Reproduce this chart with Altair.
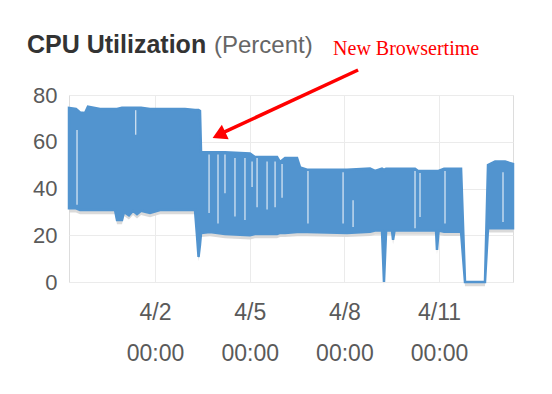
import altair as alt
import pandas as pd

# ---- data ----
BASE = pd.Timestamp("2017-03-30 06:36")
# hours after BASE, lower envelope, upper envelope (percent)
hours = [0, 5.3, 8.4, 12.2, 14.4, 23.6, 35.0, 36.5, 40.3, 41.8, 45.6, 48.7, 51.7,
         54.8, 61.6, 69.2, 88.2, 95.8, 97.3, 98.5, 99.6, 100.4, 107.2, 118.6,
         137.6, 141.4, 158.2, 160.5, 164.3, 173.4, 175.7, 181.0, 211.4, 228.9,
         232.7, 238.0, 239.5, 241.1, 245.6, 246.4, 247.5, 263.1, 265.4, 279.1,
         279.8, 281.0, 285.2, 298.1, 301.1, 316.3, 318.6, 324.0, 331.6, 337.6]
low = [31.5, 31.5, 30.8, 30.8, 30.8, 30.8, 30.8, 26.5, 26.5, 30.0, 28.5, 30.5, 29.0,
       30.5, 29.5, 30.8, 30.8, 30.8, 20.0, 10.7, 16.0, 21.0, 21.4, 20.5,
       20.0, 20.5, 20.5, 21.0, 21.0, 21.4, 21.4, 21.4, 21.0, 21.5,
       22.0, 22.0, 0.0, 22.0, 22.0, 18.0, 22.0, 22.0, 22.0, 22.0,
       13.7, 22.0, 21.5, 21.5, 0.0, 0.0, 23.0, 23.0, 23.0, 23.0]
high = [74.5, 74.0, 72.5, 72.3, 75.0, 74.0, 74.0, 74.0, 74.5, 74.5, 74.5, 74.5, 74.5,
        74.5, 74.0, 74.0, 74.0, 73.6, 73.6, 73.6, 73.2, 55.5, 55.5, 55.5,
        55.0, 53.5, 53.5, 51.3, 53.0, 53.0, 49.0, 48.0, 48.0, 48.5,
        47.5, 48.5, 48.0, 48.5, 48.5, 48.5, 48.5, 48.5, 47.5, 47.5,
        47.5, 47.5, 48.5, 48.5, 0.0, 0.0, 50.0, 51.5, 51.5, 50.5]

# thin gaps inside the band where the series did not swing fully (hours, from, to)
gap_hours = [6.1, 50.7, 106.5, 113.3, 118.6, 126.2, 133.8, 139.2, 143.0, 150.6,
             156.7, 162.0, 181.7, 208.4, 216.0, 263.1, 266.9, 285.9, 330.0]
gap_from = [33.0, 63.0, 29.5, 25.0, 38.0, 28.0, 26.5, 40.6, 32.0, 31.0,
            32.0, 36.0, 25.0, 25.0, 23.5, 23.0, 27.8, 25.0, 25.7]
gap_to = [65.0, 73.5, 54.5, 54.5, 54.5, 53.0, 53.0, 51.5, 53.0, 51.5,
          51.5, 50.5, 47.5, 47.0, 35.0, 47.5, 46.6, 47.5, 47.0]

tick_dates = ["2017-04-02", "2017-04-05", "2017-04-08", "2017-04-11"]

annot_text = "New Browsertime"
# annotation anchor points (hours after BASE, percent)
arrow_tail = (219.8, 90.7)
arrow_end = (116.3, 63.7)
arrow_head = (114.0, 62.9)
text_pos = (200.8, 97.1)

BLUE = "#5294cf"
FONT = "Liberation Sans"


def ts(h):
    return BASE + pd.Timedelta(hours=h)


df = pd.DataFrame({"t": [ts(h) for h in hours], "low": low, "high": high})
gap_df = pd.DataFrame({"t": [ts(h) for h in gap_hours], "g1": gap_from, "g2": gap_to})

x_scale = alt.Scale(domain=[alt.DateTime(year=2017, month=3, date=30, hours=6, minutes=36),
                            alt.DateTime(year=2017, month=4, date=13, hours=8, minutes=12)],
                    nice=False)
y_scale = alt.Scale(domain=[0, 80], nice=False)

x_axis = alt.Axis(
    values=[alt.DateTime(year=2017, month=4, date=int(d[-2:])) for d in tick_dates],
    labelExpr="[timeFormat(datum.value, '%-m/%-d'), timeFormat(datum.value, '%H:%M')]",
    labelFontSize=23, labelFont=FONT, labelColor="#5a5a5a", labelLineHeight=41,
    labelPadding=19, ticks=False, domain=False, title=None,
    grid=True, gridColor="#ebebeb", labelFlush=False,
)
y_axis = alt.Axis(
    values=[0, 20, 40, 60, 80], labelFontSize=22, labelFont=FONT, labelColor="#5a5a5a",
    labelPadding=12, ticks=False, domain=False, title=None,
    grid=True, gridColor="#ebebeb",
)

base = alt.Chart(df)

shadow = base.transform_calculate(
    s_low="datum.low - 1.8"
).mark_area(color="#d6d6d6", opacity=0.9).encode(
    x=alt.X("t:T", scale=x_scale, axis=x_axis),
    y=alt.Y("s_low:Q", scale=y_scale, axis=y_axis),
    y2="low:Q",
)

band = base.mark_area(color=BLUE, stroke=BLUE, strokeWidth=2.5, opacity=1).encode(
    x=alt.X("t:T", scale=x_scale),
    y=alt.Y("low:Q", scale=y_scale),
    y2="high:Q",
)

gaps = alt.Chart(gap_df).mark_rule(color="#dfeaf5", strokeWidth=1.4, opacity=0.85).encode(
    x=alt.X("t:T", scale=x_scale),
    y=alt.Y("g1:Q", scale=y_scale),
    y2="g2:Q",
)

arrow_df = pd.DataFrame({
    "t1": [ts(arrow_tail[0])], "v1": [arrow_tail[1]],
    "t2": [ts(arrow_end[0])], "v2": [arrow_end[1]],
})
arrow = alt.Chart(arrow_df).mark_rule(color="#ff0000", strokeWidth=3.5).encode(
    x=alt.X("t1:T", scale=x_scale), y=alt.Y("v1:Q", scale=y_scale),
    x2="t2:T", y2="v2:Q",
)
head_df = pd.DataFrame({"t": [ts(arrow_head[0])], "v": [arrow_head[1]]})
head = alt.Chart(head_df).mark_point(
    shape="triangle-up", filled=True, color="#ff0000", size=260, angle=245, opacity=1
).encode(x=alt.X("t:T", scale=x_scale), y=alt.Y("v:Q", scale=y_scale))

text_df = pd.DataFrame({"t": [ts(text_pos[0])], "v": [text_pos[1]], "label": [annot_text]})
annot = alt.Chart(text_df).mark_text(
    align="left", baseline="alphabetic", font="Liberation Serif", fontSize=20, color="#ff0000"
).encode(x=alt.X("t:T", scale=x_scale), y=alt.Y("v:Q", scale=y_scale), text="label:N")

title_df = pd.DataFrame({"a": ["CPU Utilization"], "b": ["(Percent)"]})
title_bold = alt.Chart(title_df).mark_text(
    align="left", baseline="alphabetic", font=FONT, fontSize=25, fontWeight="bold", color="#333333"
).encode(x=alt.value(-42), y=alt.value(-42), text="a:N")
title_norm = alt.Chart(title_df).mark_text(
    align="left", baseline="alphabetic", font=FONT, fontSize=24, color="#666666"
).encode(x=alt.value(145), y=alt.value(-42), text="b:N")

chart = alt.layer(shadow, band, gaps, arrow, head, annot, title_bold, title_norm).properties(
    width=444, height=187,
    autosize=alt.AutoSizeParams(type="none"),
    padding={"left": 69, "top": 95, "right": 39, "bottom": 112},
).configure_view(stroke="#e6e6e6", strokeWidth=1).configure(background="white")

chart.save("out.html", embed_options={"renderer": "svg", "actions": False})
